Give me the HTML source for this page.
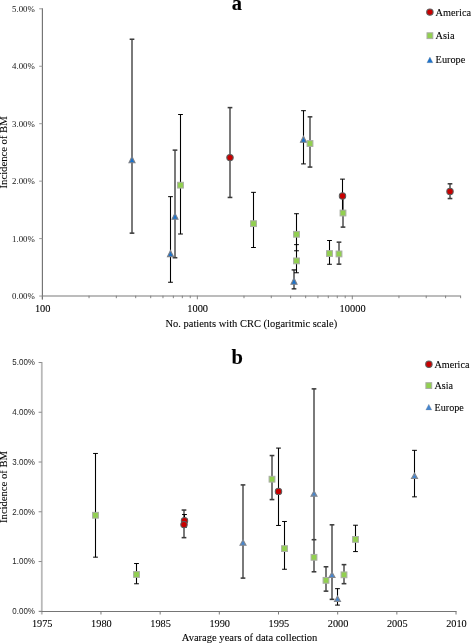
<!DOCTYPE html>
<html><head><meta charset="utf-8"><title>Incidence of BM</title>
<style>html,body{margin:0;padding:0;background:#fff}body{width:471px;height:644px;overflow:hidden;font-family:"Liberation Serif",serif}svg text{font-kerning:normal}svg{will-change:transform;transform:translateZ(0)}</style></head>
<body>
<svg width="471" height="644" viewBox="0 0 471 644" style="display:block">
<rect width="471" height="644" fill="#fff"/>
<g shape-rendering="auto">
<line x1="41.9" y1="296.0" x2="460.7" y2="296.0" stroke="#bcbcbc" stroke-width="1.9"/>
<line x1="42.40" y1="295.7" x2="42.40" y2="299.3" stroke="#787878" stroke-width="0.9"/>
<line x1="89.04" y1="295.7" x2="89.04" y2="298.2" stroke="#787878" stroke-width="0.9"/>
<line x1="116.33" y1="295.7" x2="116.33" y2="298.2" stroke="#787878" stroke-width="0.9"/>
<line x1="135.69" y1="295.7" x2="135.69" y2="298.2" stroke="#787878" stroke-width="0.9"/>
<line x1="150.71" y1="295.7" x2="150.71" y2="298.2" stroke="#787878" stroke-width="0.9"/>
<line x1="162.97" y1="295.7" x2="162.97" y2="298.2" stroke="#787878" stroke-width="0.9"/>
<line x1="173.35" y1="295.7" x2="173.35" y2="298.2" stroke="#787878" stroke-width="0.9"/>
<line x1="182.33" y1="295.7" x2="182.33" y2="298.2" stroke="#787878" stroke-width="0.9"/>
<line x1="190.26" y1="295.7" x2="190.26" y2="298.2" stroke="#787878" stroke-width="0.9"/>
<line x1="197.35" y1="295.7" x2="197.35" y2="299.3" stroke="#787878" stroke-width="0.9"/>
<line x1="243.99" y1="295.7" x2="243.99" y2="298.2" stroke="#787878" stroke-width="0.9"/>
<line x1="271.28" y1="295.7" x2="271.28" y2="298.2" stroke="#787878" stroke-width="0.9"/>
<line x1="290.64" y1="295.7" x2="290.64" y2="298.2" stroke="#787878" stroke-width="0.9"/>
<line x1="305.66" y1="295.7" x2="305.66" y2="298.2" stroke="#787878" stroke-width="0.9"/>
<line x1="317.92" y1="295.7" x2="317.92" y2="298.2" stroke="#787878" stroke-width="0.9"/>
<line x1="328.30" y1="295.7" x2="328.30" y2="298.2" stroke="#787878" stroke-width="0.9"/>
<line x1="337.28" y1="295.7" x2="337.28" y2="298.2" stroke="#787878" stroke-width="0.9"/>
<line x1="345.21" y1="295.7" x2="345.21" y2="298.2" stroke="#787878" stroke-width="0.9"/>
<line x1="352.30" y1="295.7" x2="352.30" y2="299.3" stroke="#787878" stroke-width="0.9"/>
<line x1="398.94" y1="295.7" x2="398.94" y2="298.2" stroke="#787878" stroke-width="0.9"/>
<line x1="426.23" y1="295.7" x2="426.23" y2="298.2" stroke="#787878" stroke-width="0.9"/>
<line x1="445.59" y1="295.7" x2="445.59" y2="298.2" stroke="#787878" stroke-width="0.9"/>
<line x1="460.61" y1="295.7" x2="460.61" y2="298.2" stroke="#787878" stroke-width="0.9"/>
<line x1="42.4" y1="8.30" x2="42.4" y2="299.5" stroke="#727272" stroke-width="1.15"/>
<line x1="39.199999999999996" y1="296.05" x2="42.4" y2="296.05" stroke="#9a9a9a" stroke-width="1"/>
<text x="34.8" y="298.95" text-anchor="end" font-family="Liberation Serif, serif" font-size="8.8" fill="#141414">0.00%</text>
<line x1="39.199999999999996" y1="238.60" x2="42.4" y2="238.60" stroke="#9a9a9a" stroke-width="1"/>
<text x="34.8" y="241.50" text-anchor="end" font-family="Liberation Serif, serif" font-size="8.8" fill="#141414">1.00%</text>
<line x1="39.199999999999996" y1="181.15" x2="42.4" y2="181.15" stroke="#9a9a9a" stroke-width="1"/>
<text x="34.8" y="184.05" text-anchor="end" font-family="Liberation Serif, serif" font-size="8.8" fill="#141414">2.00%</text>
<line x1="39.199999999999996" y1="123.70" x2="42.4" y2="123.70" stroke="#9a9a9a" stroke-width="1"/>
<text x="34.8" y="126.60" text-anchor="end" font-family="Liberation Serif, serif" font-size="8.8" fill="#141414">3.00%</text>
<line x1="39.199999999999996" y1="66.25" x2="42.4" y2="66.25" stroke="#9a9a9a" stroke-width="1"/>
<text x="34.8" y="69.15" text-anchor="end" font-family="Liberation Serif, serif" font-size="8.8" fill="#141414">4.00%</text>
<line x1="39.199999999999996" y1="8.80" x2="42.4" y2="8.80" stroke="#9a9a9a" stroke-width="1"/>
<text x="34.8" y="11.70" text-anchor="end" font-family="Liberation Serif, serif" font-size="8.8" fill="#141414">5.00%</text>
<text x="42.70" y="311.7" text-anchor="middle" font-family="Liberation Serif, serif" font-size="10.4" fill="#000" stroke="#000" stroke-width="0.08">100</text>
<text x="197.65" y="311.7" text-anchor="middle" font-family="Liberation Serif, serif" font-size="10.4" fill="#000" stroke="#000" stroke-width="0.08">1000</text>
<text x="352.60" y="311.7" text-anchor="middle" font-family="Liberation Serif, serif" font-size="10.4" fill="#000" stroke="#000" stroke-width="0.08">10000</text>
</g>
<text transform="translate(251.3,326.5) scale(1,1.08)" text-anchor="middle" font-family="Liberation Serif, serif" font-size="10.5" fill="#000" stroke="#000" stroke-width="0.08">No. patients with CRC (logaritmic scale)</text>
<text transform="translate(7.4,152.4) rotate(-90) scale(1.015,1)" text-anchor="middle" font-family="Liberation Serif, serif" font-size="10.5" fill="#000" stroke="#000" stroke-width="0.08">Incidence of BM</text>
<text x="236.9" y="9.8" text-anchor="middle" font-family="Liberation Serif, serif" font-weight="bold" font-size="20.5" fill="#000" stroke="#000" stroke-width="0.08">a</text>
<circle cx="429.90" cy="12.10" r="3.2" fill="#c80000" stroke="#5c5c5c" stroke-width="1.05"/>
<rect x="427.00" y="32.80" width="5.8" height="5.8" fill="#92d050" stroke="#a9ada4" stroke-width="1"/>
<path d="M429.90 57.00 L432.90 62.70 L426.90 62.70 Z" fill="#1a72cc" stroke="#7c8088" stroke-opacity="0.55" stroke-width="0.5" stroke-linejoin="miter"/>
<text transform="translate(435.6,15.5) scale(1,1.07)" font-family="Liberation Serif, serif" font-size="10.3" fill="#000" stroke="#000" stroke-width="0.08">America</text>
<text transform="translate(435.6,38.7) scale(1,1.07)" font-family="Liberation Serif, serif" font-size="10.3" fill="#000" stroke="#000" stroke-width="0.08">Asia</text>
<text transform="translate(435.6,62.5) scale(1,1.07)" font-family="Liberation Serif, serif" font-size="10.3" fill="#000" stroke="#000" stroke-width="0.08">Europe</text>
<line x1="132.00" y1="39.25" x2="132.00" y2="233.14" stroke="#7a7a7a" stroke-width="2"/>
<line x1="129.65" y1="39.25" x2="134.35" y2="39.25" stroke="#3c3c3c" stroke-width="1.55"/>
<line x1="129.65" y1="233.14" x2="134.35" y2="233.14" stroke="#3c3c3c" stroke-width="1.55"/>
<line x1="170.50" y1="196.66" x2="170.50" y2="282.26" stroke="#000" stroke-width="1.08"/>
<line x1="168.10" y1="196.66" x2="172.90" y2="196.66" stroke="#000" stroke-width="1"/>
<line x1="168.10" y1="282.26" x2="172.90" y2="282.26" stroke="#000" stroke-width="1"/>
<line x1="175.00" y1="150.13" x2="175.00" y2="257.73" stroke="#7a7a7a" stroke-width="2"/>
<line x1="172.65" y1="150.13" x2="177.35" y2="150.13" stroke="#3c3c3c" stroke-width="1.55"/>
<line x1="172.65" y1="257.73" x2="177.35" y2="257.73" stroke="#3c3c3c" stroke-width="1.55"/>
<line x1="180.50" y1="114.51" x2="180.50" y2="234.00" stroke="#000" stroke-width="1.08"/>
<line x1="178.10" y1="114.51" x2="182.90" y2="114.51" stroke="#000" stroke-width="1"/>
<line x1="178.10" y1="234.00" x2="182.90" y2="234.00" stroke="#000" stroke-width="1"/>
<line x1="230.00" y1="107.61" x2="230.00" y2="197.45" stroke="#7a7a7a" stroke-width="2"/>
<line x1="227.65" y1="107.61" x2="232.35" y2="107.61" stroke="#3c3c3c" stroke-width="1.55"/>
<line x1="227.65" y1="197.45" x2="232.35" y2="197.45" stroke="#3c3c3c" stroke-width="1.55"/>
<line x1="253.50" y1="192.35" x2="253.50" y2="247.50" stroke="#000" stroke-width="1.08"/>
<line x1="251.10" y1="192.35" x2="255.90" y2="192.35" stroke="#000" stroke-width="1"/>
<line x1="251.10" y1="247.50" x2="255.90" y2="247.50" stroke="#000" stroke-width="1"/>
<line x1="294.00" y1="269.91" x2="294.00" y2="288.87" stroke="#7a7a7a" stroke-width="2"/>
<line x1="291.65" y1="269.91" x2="296.35" y2="269.91" stroke="#0a0a0a" stroke-width="1.2"/>
<line x1="291.65" y1="288.87" x2="296.35" y2="288.87" stroke="#0a0a0a" stroke-width="1.2"/>
<line x1="296.50" y1="213.72" x2="296.50" y2="250.78" stroke="#000" stroke-width="1.08"/>
<line x1="294.10" y1="213.72" x2="298.90" y2="213.72" stroke="#000" stroke-width="1"/>
<line x1="294.10" y1="250.78" x2="298.90" y2="250.78" stroke="#000" stroke-width="1"/>
<line x1="296.50" y1="244.63" x2="296.50" y2="272.78" stroke="#000" stroke-width="1.08"/>
<line x1="294.10" y1="244.63" x2="298.90" y2="244.63" stroke="#000" stroke-width="1"/>
<line x1="294.10" y1="272.78" x2="298.90" y2="272.78" stroke="#000" stroke-width="1"/>
<line x1="303.50" y1="110.70" x2="303.50" y2="163.91" stroke="#000" stroke-width="1.08"/>
<line x1="301.10" y1="110.70" x2="305.90" y2="110.70" stroke="#000" stroke-width="1"/>
<line x1="301.10" y1="163.91" x2="305.90" y2="163.91" stroke="#000" stroke-width="1"/>
<line x1="310.00" y1="116.83" x2="310.00" y2="167.07" stroke="#7a7a7a" stroke-width="2"/>
<line x1="307.65" y1="116.83" x2="312.35" y2="116.83" stroke="#3c3c3c" stroke-width="1.55"/>
<line x1="307.65" y1="167.07" x2="312.35" y2="167.07" stroke="#3c3c3c" stroke-width="1.55"/>
<line x1="329.50" y1="240.50" x2="329.50" y2="264.28" stroke="#000" stroke-width="1.08"/>
<line x1="327.10" y1="240.50" x2="331.90" y2="240.50" stroke="#000" stroke-width="1"/>
<line x1="327.10" y1="264.28" x2="331.90" y2="264.28" stroke="#000" stroke-width="1"/>
<line x1="339.00" y1="242.16" x2="339.00" y2="264.17" stroke="#7a7a7a" stroke-width="2"/>
<line x1="336.65" y1="242.16" x2="341.35" y2="242.16" stroke="#3c3c3c" stroke-width="1.55"/>
<line x1="336.65" y1="264.17" x2="341.35" y2="264.17" stroke="#3c3c3c" stroke-width="1.55"/>
<line x1="343.00" y1="196.66" x2="343.00" y2="227.11" stroke="#7a7a7a" stroke-width="2"/>
<line x1="340.65" y1="196.66" x2="345.35" y2="196.66" stroke="#3c3c3c" stroke-width="1.55"/>
<line x1="340.65" y1="227.11" x2="345.35" y2="227.11" stroke="#3c3c3c" stroke-width="1.55"/>
<line x1="342.50" y1="179.14" x2="342.50" y2="211.02" stroke="#000" stroke-width="1.08"/>
<line x1="340.10" y1="179.14" x2="344.90" y2="179.14" stroke="#000" stroke-width="1"/>
<line x1="340.10" y1="211.02" x2="344.90" y2="211.02" stroke="#000" stroke-width="1"/>
<line x1="450.00" y1="183.81" x2="450.00" y2="198.56" stroke="#7a7a7a" stroke-width="2"/>
<line x1="447.65" y1="183.81" x2="452.35" y2="183.81" stroke="#3c3c3c" stroke-width="1.55"/>
<line x1="447.65" y1="198.56" x2="452.35" y2="198.56" stroke="#3c3c3c" stroke-width="1.55"/>
<path d="M132.00 156.59 L135.00 162.69 L129.00 162.69 Z" fill="#1a72cc" stroke="#7c8088" stroke-width="1.1" stroke-linejoin="miter"/>
<path d="M170.50 250.52 L173.50 256.62 L167.50 256.62 Z" fill="#1a72cc" stroke="#7c8088" stroke-width="1.1" stroke-linejoin="miter"/>
<path d="M175.00 213.18 L178.00 219.28 L172.00 219.28 Z" fill="#1a72cc" stroke="#7c8088" stroke-width="1.1" stroke-linejoin="miter"/>
<rect x="177.60" y="182.27" width="5.8" height="5.8" fill="#92d050" stroke="#a9ada4" stroke-width="1"/>
<circle cx="230.00" cy="157.60" r="3.2" fill="#c80000" stroke="#5c5c5c" stroke-width="1.05"/>
<rect x="250.60" y="220.76" width="5.8" height="5.8" fill="#92d050" stroke="#a9ada4" stroke-width="1"/>
<path d="M294.00 278.10 L297.00 284.20 L291.00 284.20 Z" fill="#1a72cc" stroke="#7c8088" stroke-width="1.1" stroke-linejoin="miter"/>
<rect x="293.60" y="231.39" width="5.8" height="5.8" fill="#92d050" stroke="#a9ada4" stroke-width="1"/>
<rect x="293.60" y="257.99" width="5.8" height="5.8" fill="#92d050" stroke="#a9ada4" stroke-width="1"/>
<path d="M303.50 136.20 L306.50 142.30 L300.50 142.30 Z" fill="#1a72cc" stroke="#7c8088" stroke-width="1.1" stroke-linejoin="miter"/>
<rect x="307.10" y="140.62" width="5.8" height="5.8" fill="#92d050" stroke="#a9ada4" stroke-width="1"/>
<rect x="326.60" y="250.64" width="5.8" height="5.8" fill="#92d050" stroke="#a9ada4" stroke-width="1"/>
<rect x="336.10" y="251.04" width="5.8" height="5.8" fill="#92d050" stroke="#a9ada4" stroke-width="1"/>
<rect x="340.10" y="210.13" width="5.8" height="5.8" fill="#92d050" stroke="#a9ada4" stroke-width="1"/>
<circle cx="342.50" cy="195.97" r="3.2" fill="#c80000" stroke="#5c5c5c" stroke-width="1.05"/>
<circle cx="450.00" cy="191.39" r="3.2" fill="#c80000" stroke="#5c5c5c" stroke-width="1.05"/>
<line x1="41.8" y1="362.00" x2="41.8" y2="614.5" stroke="#b9b9b9" stroke-width="1.8"/>
<line x1="39.0" y1="611.5" x2="456.53" y2="611.5" stroke="#757575" stroke-width="1.05"/>
<line x1="38.599999999999994" y1="611.30" x2="41.8" y2="611.30" stroke="#8a8a8a" stroke-width="1"/>
<text transform="translate(34.9,614.20) scale(0.885,1)" text-anchor="end" font-family="Liberation Sans, sans-serif" font-size="9" fill="#262626">0.00%</text>
<line x1="38.599999999999994" y1="561.54" x2="41.8" y2="561.54" stroke="#8a8a8a" stroke-width="1"/>
<text transform="translate(34.9,564.44) scale(0.885,1)" text-anchor="end" font-family="Liberation Sans, sans-serif" font-size="9" fill="#262626">1.00%</text>
<line x1="38.599999999999994" y1="511.78" x2="41.8" y2="511.78" stroke="#8a8a8a" stroke-width="1"/>
<text transform="translate(34.9,514.68) scale(0.885,1)" text-anchor="end" font-family="Liberation Sans, sans-serif" font-size="9" fill="#262626">2.00%</text>
<line x1="38.599999999999994" y1="462.02" x2="41.8" y2="462.02" stroke="#8a8a8a" stroke-width="1"/>
<text transform="translate(34.9,464.92) scale(0.885,1)" text-anchor="end" font-family="Liberation Sans, sans-serif" font-size="9" fill="#262626">3.00%</text>
<line x1="38.599999999999994" y1="412.26" x2="41.8" y2="412.26" stroke="#8a8a8a" stroke-width="1"/>
<text transform="translate(34.9,415.16) scale(0.885,1)" text-anchor="end" font-family="Liberation Sans, sans-serif" font-size="9" fill="#262626">4.00%</text>
<line x1="38.599999999999994" y1="362.50" x2="41.8" y2="362.50" stroke="#8a8a8a" stroke-width="1"/>
<text transform="translate(34.9,365.40) scale(0.885,1)" text-anchor="end" font-family="Liberation Sans, sans-serif" font-size="9" fill="#262626">5.00%</text>
<text x="42.20" y="627.1" text-anchor="middle" font-family="Liberation Serif, serif" font-size="10.3" fill="#000" stroke="#000" stroke-width="0.08">1975</text>
<line x1="100.97" y1="611.3" x2="100.97" y2="614.5" stroke="#7a7a7a" stroke-width="1"/>
<text x="101.38" y="627.1" text-anchor="middle" font-family="Liberation Serif, serif" font-size="10.3" fill="#000" stroke="#000" stroke-width="0.08">1980</text>
<line x1="160.15" y1="611.3" x2="160.15" y2="614.5" stroke="#7a7a7a" stroke-width="1"/>
<text x="160.55" y="627.1" text-anchor="middle" font-family="Liberation Serif, serif" font-size="10.3" fill="#000" stroke="#000" stroke-width="0.08">1985</text>
<line x1="219.32" y1="611.3" x2="219.32" y2="614.5" stroke="#7a7a7a" stroke-width="1"/>
<text x="219.72" y="627.1" text-anchor="middle" font-family="Liberation Serif, serif" font-size="10.3" fill="#000" stroke="#000" stroke-width="0.08">1990</text>
<line x1="278.50" y1="611.3" x2="278.50" y2="614.5" stroke="#7a7a7a" stroke-width="1"/>
<text x="278.90" y="627.1" text-anchor="middle" font-family="Liberation Serif, serif" font-size="10.3" fill="#000" stroke="#000" stroke-width="0.08">1995</text>
<line x1="337.68" y1="611.3" x2="337.68" y2="614.5" stroke="#7a7a7a" stroke-width="1"/>
<text x="338.07" y="627.1" text-anchor="middle" font-family="Liberation Serif, serif" font-size="10.3" fill="#000" stroke="#000" stroke-width="0.08">2000</text>
<line x1="396.85" y1="611.3" x2="396.85" y2="614.5" stroke="#7a7a7a" stroke-width="1"/>
<text x="397.25" y="627.1" text-anchor="middle" font-family="Liberation Serif, serif" font-size="10.3" fill="#000" stroke="#000" stroke-width="0.08">2005</text>
<line x1="456.03" y1="611.3" x2="456.03" y2="614.5" stroke="#7a7a7a" stroke-width="1"/>
<text x="456.43" y="627.1" text-anchor="middle" font-family="Liberation Serif, serif" font-size="10.3" fill="#000" stroke="#000" stroke-width="0.08">2010</text>
<text transform="translate(249.6,641.1) scale(1,1.08)" text-anchor="middle" font-family="Liberation Serif, serif" font-size="10.55" fill="#000" stroke="#000" stroke-width="0.08">Avarage years of data collection</text>
<text transform="translate(7.0,487) rotate(-90) scale(1.01,1)" text-anchor="middle" font-family="Liberation Serif, serif" font-size="10.5" fill="#000" stroke="#000" stroke-width="0.08">Incidence of BM</text>
<text x="237.2" y="364.0" text-anchor="middle" font-family="Liberation Serif, serif" font-weight="bold" font-size="20.5" fill="#000" stroke="#000" stroke-width="0.08">b</text>
<circle cx="428.90" cy="364.30" r="3.2" fill="#c80000" stroke="#5c5c5c" stroke-width="1.05"/>
<rect x="425.90" y="382.70" width="5.8" height="5.8" fill="#92d050" stroke="#a9ada4" stroke-width="1"/>
<path d="M428.80 404.20 L431.80 409.90 L425.80 409.90 Z" fill="#4586cf" stroke="#83878e" stroke-opacity="0.55" stroke-width="0.5" stroke-linejoin="miter"/>
<text transform="translate(434.5,367.7) scale(1,1.08)" font-family="Liberation Serif, serif" font-size="10.15" fill="#000" stroke="#000" stroke-width="0.08">America</text>
<text transform="translate(434.5,389.0) scale(1,1.08)" font-family="Liberation Serif, serif" font-size="10.15" fill="#000" stroke="#000" stroke-width="0.08">Asia</text>
<text transform="translate(434.5,410.5) scale(1,1.08)" font-family="Liberation Serif, serif" font-size="10.15" fill="#000" stroke="#000" stroke-width="0.08">Europe</text>
<line x1="95.50" y1="453.46" x2="95.50" y2="557.16" stroke="#000" stroke-width="1.08"/>
<line x1="93.10" y1="453.46" x2="97.90" y2="453.46" stroke="#000" stroke-width="1"/>
<line x1="93.10" y1="557.16" x2="97.90" y2="557.16" stroke="#000" stroke-width="1"/>
<line x1="136.50" y1="563.53" x2="136.50" y2="583.78" stroke="#000" stroke-width="1.08"/>
<line x1="134.10" y1="563.53" x2="138.90" y2="563.53" stroke="#000" stroke-width="1"/>
<line x1="134.10" y1="583.78" x2="138.90" y2="583.78" stroke="#000" stroke-width="1"/>
<line x1="184.00" y1="510.04" x2="184.00" y2="537.66" stroke="#7a7a7a" stroke-width="2"/>
<line x1="181.65" y1="510.04" x2="186.35" y2="510.04" stroke="#3c3c3c" stroke-width="1.55"/>
<line x1="181.65" y1="537.66" x2="186.35" y2="537.66" stroke="#3c3c3c" stroke-width="1.55"/>
<line x1="184.50" y1="514.52" x2="184.50" y2="527.21" stroke="#000" stroke-width="1.08"/>
<line x1="182.10" y1="514.52" x2="186.90" y2="514.52" stroke="#000" stroke-width="1"/>
<line x1="182.10" y1="527.21" x2="186.90" y2="527.21" stroke="#000" stroke-width="1"/>
<line x1="243.00" y1="484.91" x2="243.00" y2="578.11" stroke="#7a7a7a" stroke-width="2"/>
<line x1="240.65" y1="484.91" x2="245.35" y2="484.91" stroke="#3c3c3c" stroke-width="1.55"/>
<line x1="240.65" y1="578.11" x2="245.35" y2="578.11" stroke="#3c3c3c" stroke-width="1.55"/>
<line x1="272.00" y1="455.55" x2="272.00" y2="499.59" stroke="#7a7a7a" stroke-width="2"/>
<line x1="269.65" y1="455.55" x2="274.35" y2="455.55" stroke="#3c3c3c" stroke-width="1.55"/>
<line x1="269.65" y1="499.59" x2="274.35" y2="499.59" stroke="#3c3c3c" stroke-width="1.55"/>
<line x1="278.50" y1="448.09" x2="278.50" y2="525.46" stroke="#000" stroke-width="1.08"/>
<line x1="276.10" y1="448.09" x2="280.90" y2="448.09" stroke="#000" stroke-width="1"/>
<line x1="276.10" y1="525.46" x2="280.90" y2="525.46" stroke="#000" stroke-width="1"/>
<line x1="284.50" y1="521.48" x2="284.50" y2="569.25" stroke="#000" stroke-width="1.08"/>
<line x1="282.10" y1="521.48" x2="286.90" y2="521.48" stroke="#000" stroke-width="1"/>
<line x1="282.10" y1="569.25" x2="286.90" y2="569.25" stroke="#000" stroke-width="1"/>
<line x1="314.00" y1="388.87" x2="314.00" y2="556.81" stroke="#7a7a7a" stroke-width="2"/>
<line x1="311.65" y1="388.87" x2="316.35" y2="388.87" stroke="#3c3c3c" stroke-width="1.55"/>
<line x1="311.65" y1="556.81" x2="316.35" y2="556.81" stroke="#3c3c3c" stroke-width="1.55"/>
<line x1="314.00" y1="539.69" x2="314.00" y2="571.79" stroke="#7a7a7a" stroke-width="2"/>
<line x1="311.65" y1="539.69" x2="316.35" y2="539.69" stroke="#3c3c3c" stroke-width="1.55"/>
<line x1="311.65" y1="571.79" x2="316.35" y2="571.79" stroke="#3c3c3c" stroke-width="1.55"/>
<line x1="326.00" y1="566.76" x2="326.00" y2="591.15" stroke="#7a7a7a" stroke-width="2"/>
<line x1="323.65" y1="566.76" x2="328.35" y2="566.76" stroke="#3c3c3c" stroke-width="1.55"/>
<line x1="323.65" y1="591.15" x2="328.35" y2="591.15" stroke="#3c3c3c" stroke-width="1.55"/>
<line x1="332.00" y1="524.82" x2="332.00" y2="599.36" stroke="#7a7a7a" stroke-width="2"/>
<line x1="329.65" y1="524.82" x2="334.35" y2="524.82" stroke="#3c3c3c" stroke-width="1.55"/>
<line x1="329.65" y1="599.36" x2="334.35" y2="599.36" stroke="#3c3c3c" stroke-width="1.55"/>
<line x1="337.50" y1="588.66" x2="337.50" y2="605.08" stroke="#000" stroke-width="1.08"/>
<line x1="335.10" y1="588.66" x2="339.90" y2="588.66" stroke="#000" stroke-width="1"/>
<line x1="335.10" y1="605.08" x2="339.90" y2="605.08" stroke="#000" stroke-width="1"/>
<line x1="344.00" y1="564.63" x2="344.00" y2="583.68" stroke="#7a7a7a" stroke-width="2"/>
<line x1="341.65" y1="564.63" x2="346.35" y2="564.63" stroke="#3c3c3c" stroke-width="1.55"/>
<line x1="341.65" y1="583.68" x2="346.35" y2="583.68" stroke="#3c3c3c" stroke-width="1.55"/>
<line x1="355.50" y1="525.22" x2="355.50" y2="551.59" stroke="#000" stroke-width="1.08"/>
<line x1="353.10" y1="525.22" x2="357.90" y2="525.22" stroke="#000" stroke-width="1"/>
<line x1="353.10" y1="551.59" x2="357.90" y2="551.59" stroke="#000" stroke-width="1"/>
<line x1="414.50" y1="450.33" x2="414.50" y2="496.85" stroke="#000" stroke-width="1.08"/>
<line x1="412.10" y1="450.33" x2="416.90" y2="450.33" stroke="#000" stroke-width="1"/>
<line x1="412.10" y1="496.85" x2="416.90" y2="496.85" stroke="#000" stroke-width="1"/>
<rect x="92.60" y="512.36" width="5.8" height="5.8" fill="#92d050" stroke="#a9ada4" stroke-width="1"/>
<rect x="133.60" y="571.58" width="5.8" height="5.8" fill="#92d050" stroke="#a9ada4" stroke-width="1"/>
<circle cx="184.50" cy="520.74" r="3.2" fill="#c80000" stroke="#5c5c5c" stroke-width="1.05"/>
<circle cx="184.00" cy="524.62" r="3.2" fill="#c80000" stroke="#5c5c5c" stroke-width="1.05"/>
<path d="M243.00 539.78 L246.00 545.18 L240.00 545.18 Z" fill="#4586cf" stroke="#83878e" stroke-width="1.1" stroke-linejoin="miter"/>
<rect x="269.10" y="476.29" width="5.8" height="5.8" fill="#92d050" stroke="#a9ada4" stroke-width="1"/>
<circle cx="278.50" cy="491.38" r="3.2" fill="#c80000" stroke="#5c5c5c" stroke-width="1.05"/>
<rect x="281.60" y="545.70" width="5.8" height="5.8" fill="#92d050" stroke="#a9ada4" stroke-width="1"/>
<path d="M314.00 490.77 L317.00 496.17 L311.00 496.17 Z" fill="#4586cf" stroke="#83878e" stroke-width="1.1" stroke-linejoin="miter"/>
<rect x="311.10" y="554.41" width="5.8" height="5.8" fill="#92d050" stroke="#a9ada4" stroke-width="1"/>
<rect x="323.10" y="577.45" width="5.8" height="5.8" fill="#92d050" stroke="#a9ada4" stroke-width="1"/>
<path d="M332.00 572.13 L335.00 577.53 L329.00 577.53 Z" fill="#4586cf" stroke="#83878e" stroke-width="1.1" stroke-linejoin="miter"/>
<path d="M337.50 596.01 L340.50 601.41 L334.50 601.41 Z" fill="#4586cf" stroke="#83878e" stroke-width="1.1" stroke-linejoin="miter"/>
<rect x="341.10" y="571.93" width="5.8" height="5.8" fill="#92d050" stroke="#a9ada4" stroke-width="1"/>
<rect x="352.60" y="536.50" width="5.8" height="5.8" fill="#92d050" stroke="#a9ada4" stroke-width="1"/>
<path d="M414.50 473.10 L417.50 478.50 L411.50 478.50 Z" fill="#4586cf" stroke="#83878e" stroke-width="1.1" stroke-linejoin="miter"/>
</svg>
</body></html>
